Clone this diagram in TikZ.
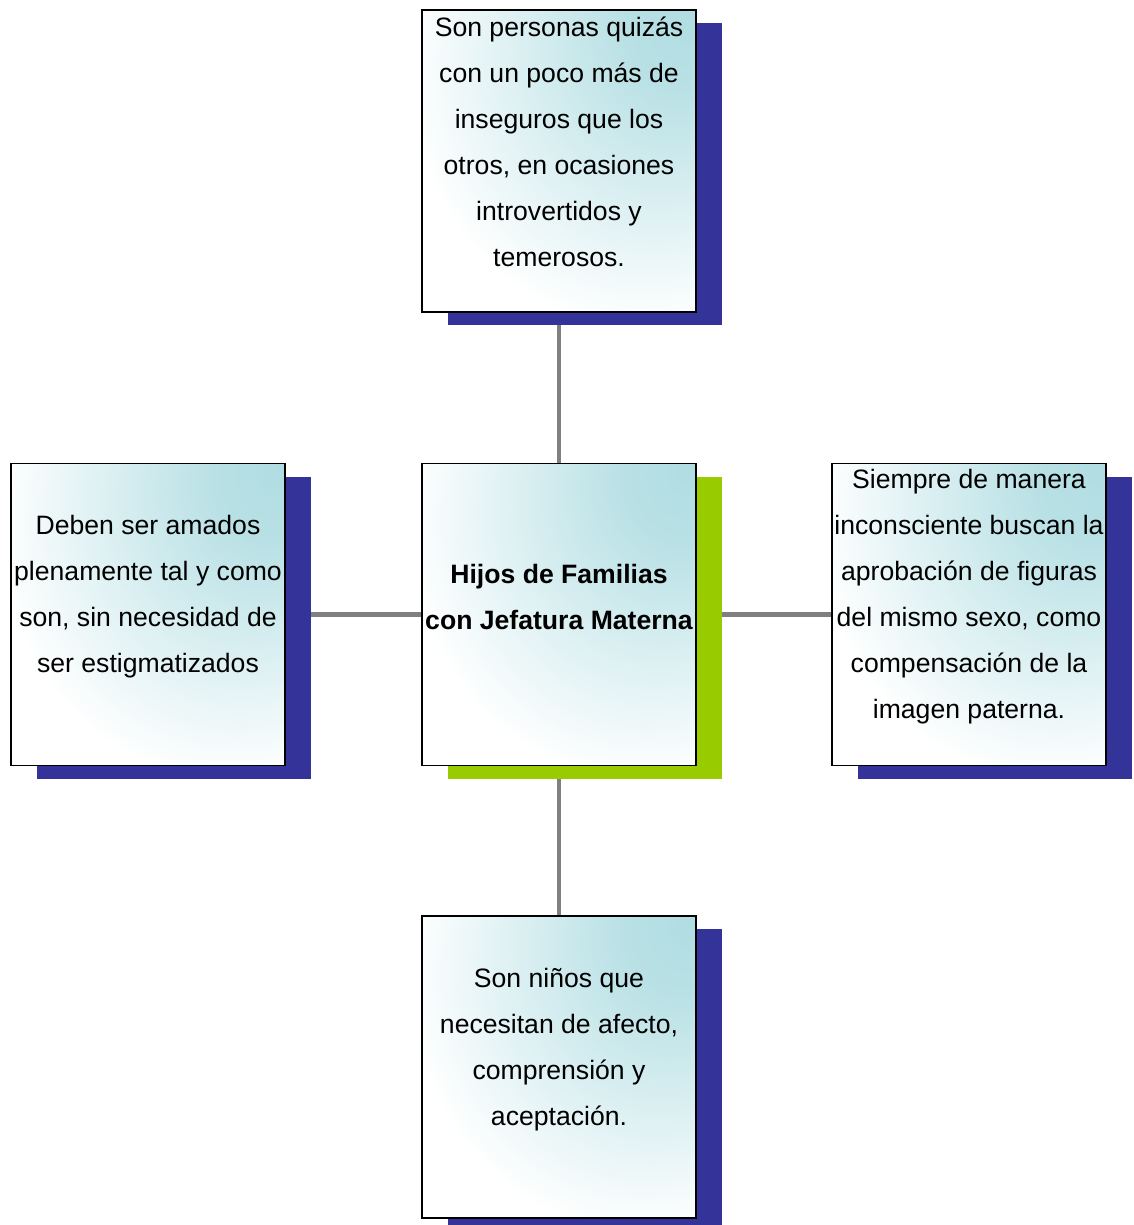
\documentclass[tikz,border=0pt]{standalone}
\usepackage{fontspec}
\setmainfont{Liberation Sans}
\usetikzlibrary{shadows,backgrounds}
\definecolor{tealc}{RGB}{176,221,226}
\definecolor{shadowblue}{RGB}{51,51,153}
\definecolor{shadowgreen}{RGB}{153,204,0}
\definecolor{linegray}{RGB}{128,128,128}
\pgfdeclareradialshading{cornershade}{\pgfpoint{25bp}{25bp}}{color(0bp)=(tealc); color(10bp)=(tealc!90!white); color(42bp)=(white); color(100bp)=(white)}
\tikzset{
  boxbase/.style={draw=black, line width=1.5pt, shading=cornershade, minimum width=274pt, minimum height=302pt, inner sep=0pt},
  bluebox/.style={boxbase, general shadow={fill=shadowblue, draw=none, shadow xshift=26pt, shadow yshift=-13pt}},
  greenbox/.style={boxbase, general shadow={fill=shadowgreen, draw=none, shadow xshift=26pt, shadow yshift=-13pt}},
  txt/.style={align=center, inner sep=0pt, font=\fontsize{26.6pt}{46pt}\selectfont, yshift=17.5pt},
  link/.style={draw=linegray, line width=4.5pt}
}
\begin{document}
\begin{tikzpicture}[x=1pt,y=-1pt]
\useasboundingbox (0,0) rectangle (1133,1225);
\node[bluebox] (top) at (559,161) {};
\node[greenbox] (mid) at (559,614.5) {};
\node[bluebox] (left) at (148,614.5) {};
\node[bluebox] (right) at (969,614.5) {};
\node[bluebox] (bot) at (559,1067) {};
\begin{pgfonlayer}{background}
\draw[link] (top.south) -- (mid.north);
\draw[link] (mid.south) -- (bot.north);
\draw[link] (left.east) -- (mid.west);
\draw[link] (mid.east) -- (right.west);
\end{pgfonlayer}
\node[txt, yshift=1.5pt] (ttop) at (top.center) {Son personas quizás\\con un poco más de\\inseguros que los\\otros, en ocasiones\\introvertidos y\\temerosos.};
\node[txt, font=\fontsize{26.6pt}{46pt}\selectfont\bfseries] (tmid) at (mid.center) {Hijos de Familias\\con Jefatura Materna};
\node[txt] (tleft) at (left.center) {Deben ser amados\\plenamente tal y como\\son, sin necesidad de\\ser estigmatizados};
\node[txt] (tright) at (right.center) {Siempre de manera\\inconsciente buscan la\\aprobación de figuras\\del mismo sexo, como\\compensación de la\\imagen paterna.};
\node[txt] (tbot) at (bot.center) {Son niños que\\necesitan de afecto,\\comprensión y\\aceptación.};
\end{tikzpicture}
\end{document}
